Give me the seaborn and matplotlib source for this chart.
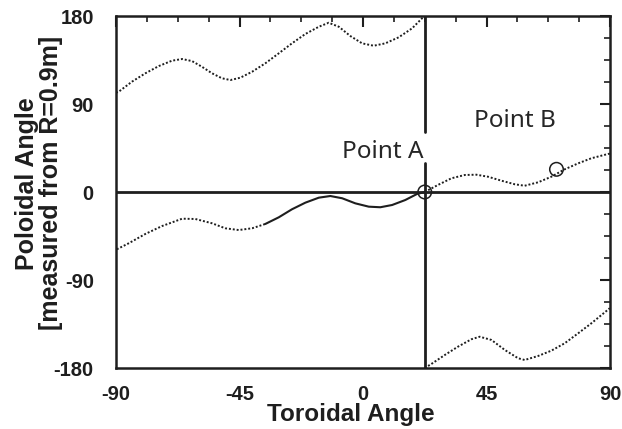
import matplotlib
matplotlib.use("Agg")
import matplotlib.pyplot as plt
import seaborn as sns
import pandas as pd

# ---- data ----
# main branch (left of Point A), dotted part
main_dot_x = [-89.7, -85.4, -79.3, -73.2, -65.9, -61.1, -55.0, -50.2, -45.3, -40.4, -35.6]
main_dot_y = [-58.6, -52.5, -42.9, -34.8, -27.3, -27.6, -32.0, -37.1, -38.9, -37.1, -32.7]
# main branch, solid part ending at Point A
main_sol_x = [-35.6, -30.7, -25.9, -21.0, -16.1, -11.9, -7.6, -2.8, 2.1, 6.3,
              10.6, 15.4, 19.7, 22.5]
main_sol_y = [-32.7, -25.9, -17.7, -10.9, -5.8, -4.1, -6.4, -11.6, -15.0, -15.6,
              -13.3, -8.2, -2.0, 0.0]
# branch right of Point A (through Point B)
right_x = [22.5, 27.3, 32.2, 37.1, 41.3, 45.6, 50.4, 55.3, 58.9, 63.8, 68.6,
           73.5, 78.4, 83.2, 89.3, 90.0]
right_y = [0.0, 7.2, 14.0, 17.4, 17.7, 15.6, 11.6, 7.9, 6.4, 9.9, 15.6,
           23.2, 29.3, 34.5, 38.9, 39.2]
# wrapped branch, upper left
upper_x = [-90.0, -89.0, -84.2, -79.3, -74.4, -69.6, -65.9, -62.3, -58.7, -55.0,
           -51.4, -48.3, -44.7, -40.4, -35.6, -30.7, -25.9, -21.0, -16.1,
           -12.5, -8.8, -4.6, -0.3, 3.9, 8.1, 13.0, 17.9, 21.5, 22.5]
upper_y = [101.5, 102.6, 112.8, 121.4, 128.8, 134.3, 136.0, 133.9, 128.1, 121.4,
           116.3, 114.5, 116.9, 123.0, 131.6, 141.8, 152.0, 161.6, 169.0,
           173.1, 169.0, 159.5, 152.0, 149.6, 152.0, 158.2, 167.4, 177.6, 180.0]
# wrapped branch, lower right
lower_x = [22.5, 24.9, 29.8, 34.6, 39.5, 42.5, 46.8, 51.7, 56.5, 58.9, 63.8,
           68.6, 73.5, 78.4, 83.2, 89.9]
lower_y = [-180.0, -175.9, -166.7, -158.2, -150.6, -148.0, -151.3, -161.6,
           -170.0, -171.8, -167.7, -162.3, -154.7, -144.5, -134.3, -118.9]

point_labels = ["Point A", "Point B"]
point_x = [22.5, 70.5]
point_y = [0.0, 23.2]

x_ticks = [-90, -45, 0, 45, 90]
y_ticks = [-180, -90, 0, 90, 180]

# ---- plotting ----
sns.set_theme(style="white")
plt.rcParams["font.family"] = ["Liberation Sans", "DejaVu Sans"]

fig = plt.figure(figsize=(6.22, 4.29), dpi=100)
ax = fig.add_axes([116/622, 1-368/429, 494/622, 352/429])

ink = "#1e1e1e"
dot_style = dict(color=ink, linewidth=1.4, linestyle=(0, (1, 1.0)))

for xs, ys in [(main_dot_x, main_dot_y), (right_x, right_y),
               (upper_x, upper_y), (lower_x, lower_y)]:
    df = pd.DataFrame({"x": xs, "y": ys})
    sns.lineplot(data=df, x="x", y="y", ax=ax, sort=False, **dot_style)

df_sol = pd.DataFrame({"x": main_sol_x, "y": main_sol_y})
sns.lineplot(data=df_sol, x="x", y="y", ax=ax, sort=False, color=ink, linewidth=1.5)

# reference lines
ax.axhline(0, color=ink, linewidth=2.0, zorder=1)
ax.axvline(point_x[0], ymin=0, ymax=(30+180)/360, color=ink, linewidth=2.0, zorder=1)
ax.axvline(point_x[0], ymin=(61+180)/360, ymax=1, color=ink, linewidth=2.0, zorder=1)

# open circles
sns.scatterplot(x=point_x, y=point_y, ax=ax, s=95, facecolors="none",
                edgecolor=ink, linewidth=1.1, zorder=5)

# point labels
ax.text(22.0, 34.5, point_labels[0], ha="right", va="baseline", fontsize=17.5,
        color="#262626", family=["Noto Sans", "DejaVu Sans"], fontweight="semibold")
ax.text(55.4, 66.5, point_labels[1], ha="center", va="baseline", fontsize=17.5,
        color="#262626", family=["Noto Sans", "DejaVu Sans"], fontweight="semibold")

ax.set_xlim(-90, 90)
ax.set_ylim(-180, 180)
ax.set_xticks(x_ticks)
ax.set_yticks(y_ticks)
ax.set_xticklabels([str(v) for v in x_ticks])
ax.set_yticklabels([str(v) for v in y_ticks])
ax.set_xticks([-90 + 11.25*i for i in range(17)], minor=True)
ax.set_yticks([-180 + 22.5*i for i in range(17)], minor=True)

ax.tick_params(which="major", direction="in", length=8, width=1.5, color=ink,
               top=True, right=True, labelsize=14.5, labelcolor=ink)
ax.tick_params(axis="x", which="major", pad=12.5)
ax.tick_params(axis="y", which="major", pad=16, length=7)
ax.tick_params(which="minor", direction="in", length=4, width=1.2, color=ink,
               top=True, right=True)
for lab in ax.get_xticklabels() + ax.get_yticklabels():
    lab.set_fontweight("bold")

for sp in ax.spines.values():
    sp.set_linewidth(1.8)
    sp.set_color(ink)

ax.set_xlabel("Toroidal Angle", fontsize=17.5, fontweight="bold", color=ink)
ax.set_ylabel("Poloidal Angle\n[measured from R=0.9m]", fontsize=18,
              fontweight="bold", color=ink, linespacing=1.0)
ax.xaxis.set_label_coords(0.475, -0.1)
ax.yaxis.set_label_coords(-0.108, 0.525)
ax.grid(False)

fig.savefig("out.png", dpi=100)
